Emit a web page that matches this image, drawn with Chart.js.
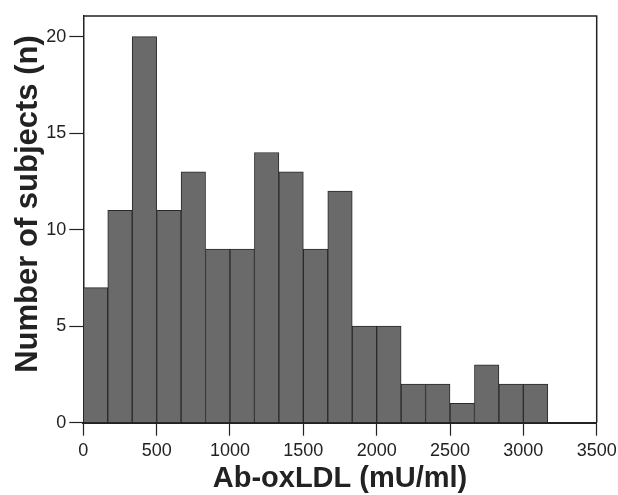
<!DOCTYPE html>
<html>
<head>
<meta charset="utf-8">
<script src="https://cdn.jsdelivr.net/npm/chart.js@4.4.1/dist/chart.umd.min.js"></script>
<style>
  html, body { margin: 0; padding: 0; background: #fff; }
  canvas { display: block; }
</style>
</head>
<body>
<canvas id="mycanvas" width="618" height="495"></canvas>
<script>
// histogram bins (lower edge, mU/ml) and counts
var binWidth = 500 / 3;
var binStarts = [0, 166.67, 333.33, 500, 666.67, 833.33, 1000, 1166.67, 1333.33, 1500,
                 1666.67, 1833.33, 2000, 2166.67, 2333.33, 2500, 2666.67, 2833.33, 3000];
var counts = [7, 11, 20, 11, 13, 9, 9, 14, 13, 9, 12, 5, 5, 2, 2, 1, 3, 2, 2];
var xTicks = [0, 500, 1000, 1500, 2000, 2500, 3000, 3500];
var yTicks = [0, 5, 10, 15, 20];
var xTitle = 'Ab-oxLDL (mU/ml)';
var yTitle = 'Number of subjects (n)';

var ink = '#222222';
var points = [];
for (var i = 0; i < binStarts.length; i++) {
  points.push({ x: binStarts[i] + binWidth / 2, y: counts[i] });
}

// top and right sides of the box, plus the axis titles
var framePlugin = {
  id: 'frame',
  afterDraw: function(chart) {
    var ctx = chart.ctx;
    var a = chart.chartArea;
    ctx.save();
    ctx.strokeStyle = ink;
    ctx.lineWidth = 1.5;
    ctx.beginPath();
    ctx.moveTo(a.left, a.top);
    ctx.lineTo(a.right, a.top);
    ctx.lineTo(a.right, a.bottom);
    ctx.stroke();

    ctx.fillStyle = ink;
    ctx.textBaseline = 'alphabetic';
    ctx.font = 'bold 29px "Liberation Sans", Arial, sans-serif';
    ctx.textAlign = 'center';
    ctx.fillText(xTitle, (a.left + a.right) / 2, 487);

    ctx.font = 'bold 31px "Liberation Sans", Arial, sans-serif';
    ctx.translate(37, 204);
    ctx.rotate(-Math.PI / 2);
    ctx.fillText(yTitle, 0, 0);
    ctx.restore();
  }
};

var ctx = document.getElementById('mycanvas');
var barGraph = new Chart(ctx, {
  type: 'bar',
  data: {
    datasets: [{
      label: 'Subjects',
      data: points,
      backgroundColor: '#6a6a6b',
      borderColor: '#2a2a2a',
      borderWidth: 1,
      borderSkipped: 'start',
      barPercentage: 1,
      categoryPercentage: 1
    }]
  },
  options: {
    responsive: false,
    animation: false,
    devicePixelRatio: 1,
    layout: { padding: { top: 16, right: 21.3, left: 0, bottom: 0 } },
    plugins: {
      legend: { display: false },
      tooltip: { enabled: false }
    },
    scales: {
      x: {
        type: 'linear',
        offset: false,
        min: 0,
        max: 3500,
        afterFit: function(scale) {
          scale.height = 72.3;
          scale.paddingLeft = 0;
          scale.paddingRight = 0;
        },
        afterBuildTicks: function(scale) {
          scale.ticks = xTicks.map(function(v) { return { value: v }; });
        },
        ticks: {
          color: ink,
          padding: 5,
          maxRotation: 0,
          font: { family: '"Liberation Sans", Arial, sans-serif', size: 18 },
          callback: function(v) { return String(v); }
        },
        grid: {
          offset: false,
          drawOnChartArea: false,
          drawTicks: true,
          tickLength: 13,
          tickColor: ink,
          tickWidth: 1.2
        },
        border: { display: true, color: ink, width: 2 }
      },
      y: {
        min: 0,
        max: 21.07,
        afterFit: function(scale) {
          scale.width = 83.3;
          scale.paddingTop = 0;
          scale.paddingBottom = 0;
        },
        afterBuildTicks: function(scale) {
          scale.ticks = yTicks.map(function(v) { return { value: v }; });
        },
        ticks: {
          color: ink,
          padding: 3,
          font: { family: '"Liberation Sans", Arial, sans-serif', size: 18 }
        },
        grid: {
          drawOnChartArea: false,
          drawTicks: true,
          tickLength: 14,
          tickColor: ink,
          tickWidth: 1.2
        },
        border: { display: true, color: ink, width: 1.5 }
      }
    }
  },
  plugins: [framePlugin]
});
</script>
</body>
</html>
